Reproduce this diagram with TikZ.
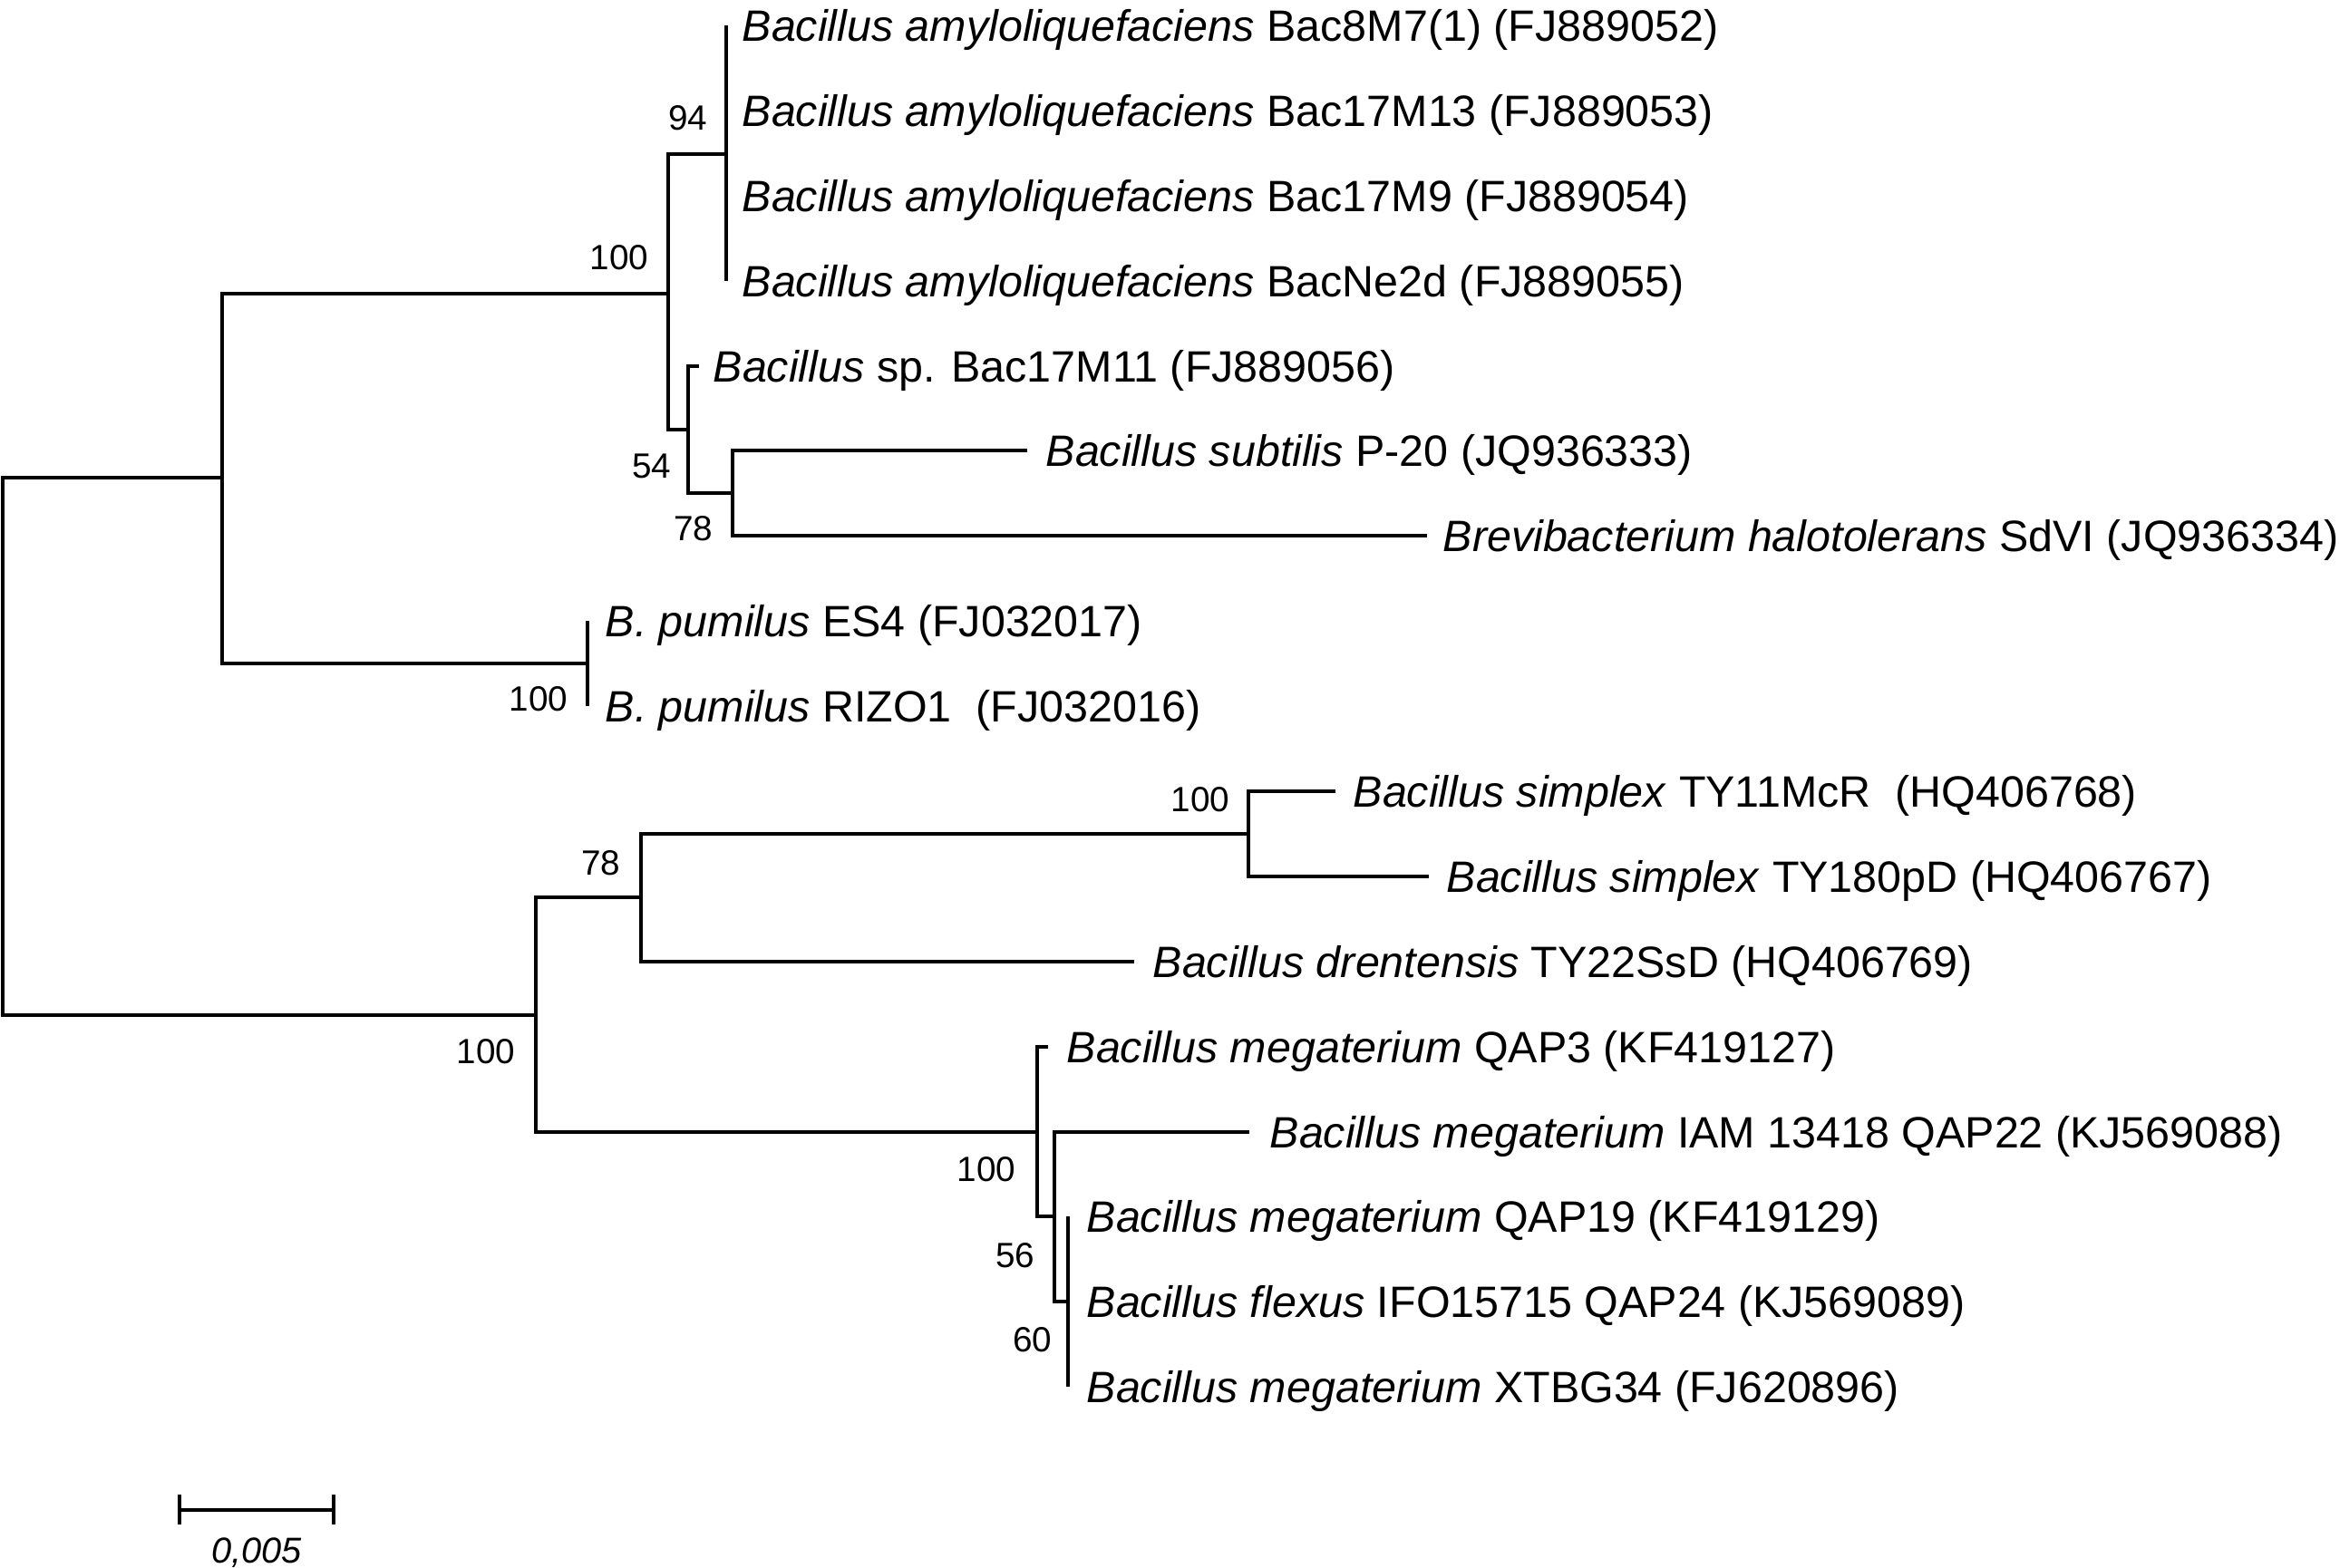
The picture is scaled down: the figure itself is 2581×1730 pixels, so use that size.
\documentclass[tikz,border=0pt]{standalone}
\usepackage{fontspec}
\setmainfont{Liberation Sans}
\begin{document}
\begin{tikzpicture}[x=0.01cm,y=-0.01cm,
  br/.style={line width=1.3pt,line join=miter,line cap=butt},
  leaf/.style={anchor=base west,inner sep=0pt,font=\fontsize{13.77}{16}\selectfont},
  boot/.style={anchor=east,inner sep=0pt,font=\fontsize{11}{13}\selectfont}]
\useasboundingbox (0,0) rectangle (2581,1730);
% internal nodes (x of vertical, y of connection)
\coordinate (nR) at (3,823);
\coordinate (nA) at (245,527);
\coordinate (nB) at (737,324);
\coordinate (nC) at (801,170);
\coordinate (nD) at (759,474);
\coordinate (nE) at (808,544);
\coordinate (nF) at (648,732);
\coordinate (nG) at (591,1120);
\coordinate (nH) at (707,990);
\coordinate (nI) at (1377,920);
\coordinate (nJ) at (1144,1249);
\coordinate (nK) at (1163,1342);
\coordinate (nL) at (1178,1436);
% leaf ends
\coordinate (l1) at (801,28);
\coordinate (l4) at (801,310);
\coordinate (l5) at (771,404);
\coordinate (l6) at (1133,497);
\coordinate (l7) at (1574,591);
\coordinate (l8) at (648,685);
\coordinate (l9) at (648,779);
\coordinate (l10) at (1473,873);
\coordinate (l11) at (1576,967);
\coordinate (l12) at (1251,1061);
\coordinate (l13) at (1156,1155);
\coordinate (l14) at (1378,1249);
\coordinate (l15) at (1178,1342);
\coordinate (l17) at (1178,1530);
% branches
\draw[br] (nA) -| (nR) |- (nG);
\draw[br] (nB) -| (nA) |- (nF);
\draw[br] (nC) -| (nB) |- (nD);
\draw[br] (l1) -- (l4);
\draw[br] (l5) -| (nD) |- (nE);
\draw[br] (l6) -| (nE) |- (l7);
\draw[br] (l8) -- (l9);
\draw[br] (nH) -| (nG) |- (nJ);
\draw[br] (nI) -| (nH) |- (l12);
\draw[br] (l10) -| (nI) |- (l11);
\draw[br] (l13) -| (nJ) |- (nK);
\draw[br] (l14) -| (nK) |- (nL);
\draw[br] (l15) -- (l17);
% leaf labels
\node[leaf] (t1) at (818,45) {\textit{Bacillus amyloliquefaciens} Bac8M7(1) (FJ889052)};
\node[leaf] (t2) at (818,139) {\textit{Bacillus amyloliquefaciens} Bac17M13 (FJ889053)};
\node[leaf] (t3) at (818,233) {\textit{Bacillus amyloliquefaciens} Bac17M9 (FJ889054)};
\node[leaf] (t4) at (818,327) {\textit{Bacillus amyloliquefaciens} BacNe2d (FJ889055)};
\node[leaf] (t5) at (786,421) {\textit{Bacillus} sp. Bac17M11 (FJ889056)};
\node[leaf] (t6) at (1153,514) {\textit{Bacillus subtilis} P-20 (JQ936333)};
\node[leaf] (t7) at (1591,608) {\textit{Brevibacterium halotolerans} SdVI (JQ936334)};
\node[leaf] (t8) at (667,702) {\textit{B. pumilus} ES4 (FJ032017)};
\node[leaf] (t9) at (667,796) {\textit{B. pumilus} RIZO1\ \ (FJ032016)};
\node[leaf] (t10) at (1492,890) {\textit{Bacillus simplex} TY11McR\ \ (HQ406768)};
\node[leaf] (t11) at (1595,984) {\textit{Bacillus simplex} TY180pD (HQ406767)};
\node[leaf] (t12) at (1271,1078) {\textit{Bacillus drentensis} TY22SsD (HQ406769)};
\node[leaf] (t13) at (1176,1172) {\textit{Bacillus megaterium} QAP3 (KF419127)};
\node[leaf] (t14) at (1400,1266) {\textit{Bacillus megaterium} IAM 13418 QAP22 (KJ569088)};
\node[leaf] (t15) at (1198,1359) {\textit{Bacillus megaterium} QAP19 (KF419129)};
\node[leaf] (t16) at (1198,1453) {\textit{Bacillus flexus} IFO15715 QAP24 (KJ569089)};
\node[leaf] (t17) at (1198,1547) {\textit{Bacillus megaterium} XTBG34 (FJ620896)};
% bootstrap values
\node[boot] (bC) at (781,130) {94};
\node[boot] (bB) at (716,284) {100};
\node[boot] (bD) at (741,514) {54};
\node[boot] (bE) at (787,583) {78};
\node[boot] (bF) at (627,771) {100};
\node[boot] (bI) at (1357,882) {100};
\node[boot] (bH) at (685,952) {78};
\node[boot] (bG) at (569,1160) {100};
\node[boot] (bJ) at (1121,1290) {100};
\node[boot] (bK) at (1142,1385) {56};
\node[boot] (bL) at (1161,1478) {60};
% scale bar
\coordinate (s1) at (198,1666);
\coordinate (s2) at (368,1666);
\draw[br] (s1) -- (s2);
\draw[br] ([yshift=0.17cm]s1) -- ([yshift=-0.16cm]s1);
\draw[br] ([yshift=0.17cm]s2) -- ([yshift=-0.16cm]s2);
\node[inner sep=0pt,anchor=base,font=\fontsize{11.3}{13}\selectfont\itshape] (scl) at (283,1724) {0,005};
\end{tikzpicture}
\end{document}
